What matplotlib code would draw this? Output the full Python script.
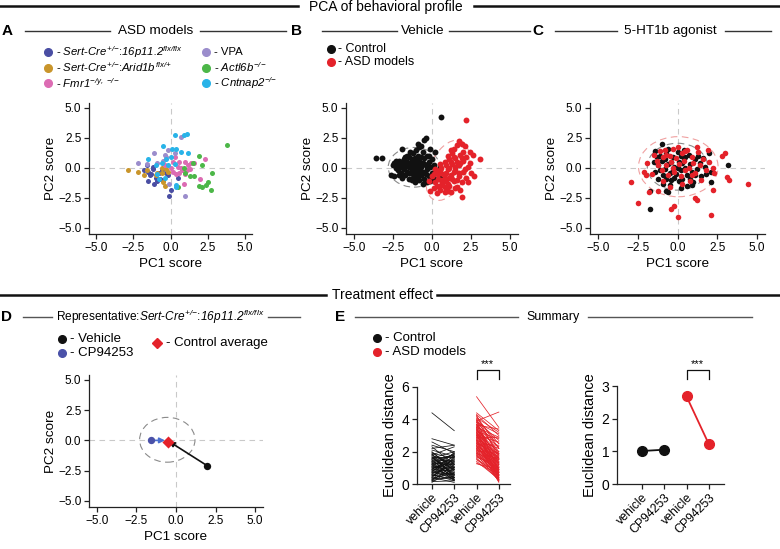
import numpy as np
import matplotlib
matplotlib.use("Agg")
import matplotlib.pyplot as plt
from matplotlib.lines import Line2D
from matplotlib.patches import Ellipse

plt.rcParams['font.family'] = ['Liberation Sans', 'DejaVu Sans']
plt.rcParams['mathtext.fontset'] = 'custom'
plt.rcParams['mathtext.rm'] = 'Liberation Sans:italic'
plt.rcParams['mathtext.it'] = 'Liberation Sans:italic'
plt.rcParams['mathtext.bf'] = 'Liberation Sans:bold'

# ---------------- DATA ----------------
# Panel A: ASD models (PC1, PC2)
a_16p_x = [-1.6,-1.5,-1.3,-1.2,-1.0,-0.9,-0.8,-1.5,-1.1,-0.7,-0.6,-0.3,-0.1,0.0,-1.4,-0.2,0.5,-1.8,-0.5,-1.2]
a_16p_y = [0.2,-0.3,-0.5,-0.1,-0.8,-1.1,-0.4,-1.1,-1.3,-0.9,-0.2,-0.4,-2.3,-1.8,-0.6,-0.6,-0.8,-0.2,-1.0,0.1]
a_arid_x = [-2.9,-2.2,-1.8,-1.6,-0.9,-0.6,-0.5,-0.4,-0.3,-0.2,-0.6,-1.0]
a_arid_y = [-0.2,-0.3,-0.6,-0.2,-0.4,-0.4,-1.2,-1.5,-0.1,-0.3,0.0,-0.6]
a_fmr_x = [0.3,0.6,0.5,0.2,0.8,1.0,1.2,1.4,1.6,2.3,1.1,0.9,0.0,0.4,0.7,1.3,2.0,0.2,-0.4,0.6,1.0]
a_fmr_y = [0.9,0.5,0.1,-0.3,-0.2,0.5,0.2,0.4,0.4,0.7,-0.2,-1.3,0.0,-0.5,0.0,-0.1,-0.9,0.5,0.2,-0.4,-0.5]
a_vpa_x = [0.7,-0.2,-0.4,-1.1,-2.2,-1.6,-0.9,-0.1,1.0,0.3,-0.5,-0.3]
a_vpa_y = [2.6,1.5,1.1,1.2,0.4,0.3,0.4,-1.3,-2.3,1.2,0.6,0.9]
a_actl_x = [3.8,1.9,2.1,2.8,2.5,2.4,2.1,1.9,2.7,1.6,0.5,1.0,1.5,1.3,0.9]
a_actl_y = [1.9,1.0,0.2,-0.4,-1.2,-1.4,-1.6,-1.5,-1.8,-0.7,-1.6,-0.4,0.4,-0.7,0.0]
a_cnt_x = [0.3,0.9,1.1,-0.5,0.1,0.4,1.2,-1.5,-0.3,0.0,0.3,-0.9,-0.8,-0.4,0.4,0.4,-0.6,-0.2,0.7,-1.0]
a_cnt_y = [2.7,2.7,2.8,1.8,1.6,1.6,1.2,0.7,0.7,0.9,0.3,-0.5,-0.9,-0.8,-1.4,-1.6,0.4,0.2,1.3,0.2]

# Panel B: Vehicle
b_ctrl = [(-3.6,0.8),(-3.2,0.8),(-2.6,-0.6),(-2.4,-0.7),(-2.5,0.2),(-2.4,0.4),(-2.3,0.0),(-2.2,0.3),(-2.2,-0.2),(-2.1,0.6),
          (-2.0,0.1),(-2.0,-0.4),(-1.9,1.6),(-1.9,0.4),(-1.8,-0.1),(-1.8,0.7),(-1.7,0.2),(-1.7,-0.6),(-1.6,0.5),(-1.6,-0.3),
          (-1.5,0.9),(-1.5,0.1),(-1.5,-0.9),(-1.4,0.4),(-1.4,-0.4),(-1.3,0.7),(-1.3,-0.1),(-1.3,-1.0),(-1.2,1.2),(-1.2,0.3),
          (-1.2,-0.5),(-1.1,0.0),(-1.1,0.8),(-1.1,-1.2),(-1.0,0.5),(-1.0,-0.3),(-1.0,-0.8),(-0.9,2.0),(-0.9,0.2),(-0.9,1.0),
          (-0.8,-0.2),(-0.8,0.6),(-0.8,-1.0),(-0.7,1.8),(-0.7,0.1),(-0.7,-0.6),(-0.6,1.3),(-0.6,0.4),(-0.6,-0.3),(-0.5,2.3),
          (-0.5,0.8),(-0.5,-0.9),(-0.4,2.5),(-0.4,0.2),(-0.4,-0.5),(-0.3,1.0),(-0.3,-0.1),(-0.3,-1.2),(-0.2,0.5),(-0.2,-0.7),
          (-0.1,1.6),(-0.1,0.1),(-0.1,-1.1),(0.0,0.7),(0.0,-0.4),(0.1,0.2),(0.2,1.3),(0.3,-0.3),(0.5,-0.8),(0.6,4.2),
          (0.5,0.1),(-1.6,1.0),(-2.1,-0.6),(-1.9,-0.8),(-1.4,1.3),(-0.9,-0.6),(-1.3,0.2),(-0.7,0.9),(-1.7,0.9),(-2.3,0.6),
          (-1.0,1.5),(-0.8,1.7),(-0.2,1.0),(-0.5,0.3),(-1.2,-0.8),(0.1,-0.9),(-0.6,-1.3),(-1.1,0.4),(-1.5,-0.4),(-2.0,0.5)]
b_asd = [(2.2,4.0),(3.1,0.7),(1.9,-2.4),(2.7,-0.7),(2.6,1.1),(1.7,2.2),(1.9,2.0),(1.6,1.9),(1.4,1.6),(2.1,1.8),
         (2.4,1.3),(1.3,1.2),(1.8,1.1),(2.2,0.9),(1.5,0.8),(1.1,0.7),(2.0,0.6),(0.8,0.5),(1.3,0.3),(1.7,0.2),
         (2.3,0.1),(0.6,0.0),(1.0,-0.1),(1.5,-0.2),(2.0,-0.3),(2.5,-0.4),(0.3,-0.3),(0.7,-0.5),(1.2,-0.6),(1.7,-0.7),
         (2.2,-0.8),(0.0,-0.7),(0.4,-0.9),(0.9,-1.0),(1.4,-1.1),(1.9,-1.2),(0.2,-1.2),(0.6,-1.4),(1.1,-1.5),(1.6,-1.6),
         (0.1,-1.7),(0.5,-1.8),(1.0,-1.9),(1.5,-1.7),(-0.1,-1.9),(0.3,-2.1),(0.8,-1.6),(1.2,-2.0),(1.8,-1.8),(0.9,0.2),
         (1.4,-0.3),(0.5,-0.2),(2.1,-0.1),(1.9,0.8),(1.0,1.0),(0.7,-1.2),(1.3,-0.9),(0.4,-0.5),(1.6,0.5),(1.1,0.0),
         (0.2,-0.1),(2.4,0.4),(0.8,-0.8),(1.2,0.5),(1.7,-0.4),(0.6,-1.0),(1.0,-1.3),(0.3,-1.5),(1.5,0.1),(2.0,1.3),
         (1.2,1.5),(0.9,-0.4),(1.6,-1.0),(0.1,-0.5),(2.3,-1.2),(1.8,0.4),(1.4,0.9),(0.5,0.3),(0.8,-2.0),(1.1,-0.8),(-0.2,-1.1)]

# Panel C: 5-HT1b agonist
c_ctrl = [(-1.7,-3.45),(3.2,0.2),(2.1,-1.2),(-1.7,-1.9),(-0.6,-2.0),(-0.7,-1.9),(0.2,-1.7),(-1.0,2.0),(-1.4,1.4),(-1.3,0.9),
          (-1.5,0.5),(-1.2,0.2),(-1.1,-0.2),(-1.4,-0.3),(-0.9,-0.6),(-0.8,0.7),(-0.7,1.2),(-0.6,0.3),(-0.5,-0.4),(-0.4,-1.0),
          (-0.3,0.9),(-0.2,0.1),(-0.1,-0.5),(0.0,1.3),(0.1,0.5),(0.2,-0.2),(0.3,-0.9),(0.4,0.8),(0.5,0.0),(0.6,-0.6),
          (0.7,1.1),(0.8,0.3),(0.9,-0.3),(1.0,-1.2),(1.1,0.7),(1.2,-0.1),(1.4,0.4),(1.5,-0.7),(1.7,0.1),(2.0,1.2),
          (2.1,-0.3),(1.8,-0.5),(-0.9,-1.3),(-0.5,-1.4),(0.6,-1.5),(0.9,-1.4),(-1.0,0.6),(-0.3,-0.2),(0.1,-1.1),(-0.6,1.6),
          (0.4,1.5),(1.3,1.0),(-1.2,-0.9),(-0.8,-0.1),(0.0,0.0),(0.3,0.4),(-0.2,-0.8),(0.8,-0.9),(1.1,-0.6),(-0.4,0.5),
          (0.5,0.9),(-1.1,1.0),(1.6,0.8),(0.2,1.0),(-0.7,-0.9)]
c_asd = [(-2.9,-1.2),(-2.5,-2.9),(-0.4,-3.45),(-0.2,-3.2),(0.0,-4.1),(2.1,-3.95),(4.4,-1.3),(3.0,1.2),(2.8,1.0),(3.1,-0.75),
         (3.25,-1.0),(2.2,-1.8),(1.1,-2.5),(1.2,-2.7),(-1.2,-1.9),(-1.8,-2.0),(-2.1,-0.3),(-2.0,-0.6),(-1.9,0.4),(-1.5,1.1),
         (-1.3,0.6),(-1.1,1.4),(-1.0,-0.2),(-0.9,0.9),(-0.8,1.5),(-0.7,0.2),(-0.6,-0.6),(-0.5,1.0),(-0.4,0.5),(-0.3,1.6),
         (-0.2,-0.3),(-0.1,0.8),(0.0,1.7),(0.1,0.3),(0.2,-0.7),(0.3,1.2),(0.4,0.6),(0.5,-0.2),(0.6,1.5),(0.7,0.0),
         (0.8,-1.1),(0.9,0.9),(1.0,0.4),(1.1,-0.4),(1.3,1.3),(1.4,0.2),(1.5,-1.0),(1.6,0.7),(1.8,-0.2),(1.9,1.5),
         (2.0,0.5),(2.2,0.0),(2.3,-0.4),(-1.6,-0.5),(-0.5,-1.6),(0.3,-1.3),(-0.9,-1.1),(1.2,1.7),(0.5,1.4),(-0.3,0.0),
         (-1.2,0.2),(0.9,-0.6),(-0.7,1.1)]

# Panel D: representative Sert-Cre;16p11.2
d_vehicle = (1.96, -2.08)
d_cp = (-1.58, 0.0)
d_ctrl_avg = (-0.5, -0.1)

# Panel E: Euclidean distance (vehicle, CP94253) per animal
e_ctrl = [(4.4,3.3),(2.8,2.4),(2.6,1.9),(2.4,2.0),(2.3,1.2),(2.2,2.4),(2.0,0.8),(1.9,1.6),(1.8,2.3),(1.8,1.1),
          (1.7,0.5),(1.7,1.7),(1.6,2.0),(1.6,0.9),(1.5,1.4),(1.5,0.3),(1.4,1.8),(1.4,0.7),(1.3,1.2),(1.3,0.2),
          (1.2,1.5),(1.2,0.6),(1.1,1.9),(1.1,1.0),(1.0,0.4),(1.0,1.3),(0.9,1.7),(0.9,0.8),(0.8,0.3),(0.8,1.5),
          (0.7,1.1),(0.7,0.6),(0.6,1.8),(0.6,0.2),(0.5,1.3),(0.5,0.7),(0.4,0.1),(0.4,1.6),(0.3,0.9),(0.3,0.4),
          (0.2,1.2),(0.2,0.5),(0.15,0.2),(0.1,1.0),(1.85,0.4),(1.75,1.3),(1.65,0.6),(1.55,1.75),(1.45,1.0),(1.35,0.4),
          (1.25,1.85),(1.15,0.25),(1.05,0.9),(0.95,1.45),(0.85,0.55),(0.75,1.95),(0.65,1.0),(0.55,0.3),(0.45,1.4),(0.35,0.65),
          (0.25,1.7),(2.1,1.7),(1.95,1.0)]
e_asd = [(5.4,3.5),(3.9,4.45),(4.4,3.3),(4.3,3.0),(4.2,2.2),(4.1,3.2),(4.0,1.8),(3.9,2.7),(3.8,1.3),(3.8,3.1),
         (3.7,2.0),(3.7,0.9),(3.6,2.5),(3.6,1.5),(3.5,0.6),(3.5,2.9),(3.4,1.9),(3.4,1.1),(3.3,0.4),(3.3,2.3),
         (3.2,1.6),(3.2,0.8),(3.1,2.0),(3.1,0.3),(3.0,1.4),(3.0,2.6),(2.9,0.9),(2.9,1.8),(2.8,0.5),(2.8,1.2),
         (2.7,2.2),(2.7,0.2),(2.6,1.6),(2.6,0.7),(2.5,1.0),(2.5,1.9),(2.4,0.4),(2.4,1.4),(2.3,0.8),(2.3,1.7),
         (2.2,0.15),(2.2,1.1),(2.1,0.6),(2.1,1.5),(2.0,0.3),(2.0,1.0),(1.9,1.3),(1.9,0.5),(1.8,0.8),(1.8,0.2),
         (1.7,1.0),(1.6,0.4),(1.5,0.7),(1.4,0.3),(1.3,0.6),(1.25,0.9),(3.65,3.4),(3.55,1.2),(3.45,0.25),(3.35,1.75),
         (3.25,2.8),(3.15,1.0),(3.05,0.55),(2.95,1.5),(2.85,2.9),(2.75,0.35),(2.65,1.3),(2.55,0.1),(2.45,2.4),(2.35,0.55),
         (2.25,1.3),(2.15,0.9),(2.05,1.9),(1.95,0.7),(1.85,1.6),(1.75,0.5),(1.65,1.2),(1.55,0.25),(4.25,1.6),(4.05,2.5),
         (3.95,0.7),(3.85,2.2)]
e_sum_ctrl = [1.01, 1.05]
e_sum_asd = [2.68, 1.22]
e_ticklabels = ["vehicle", "CP94253", "vehicle", "CP94253"]
pc_ticks = [-5.0, -2.5, 0.0, 2.5, 5.0]

# ---------------- STYLE ----------------
W, H = 780, 549
BLACK = '#111111'
RED = '#e4222a'
BLUE = '#4a51a8'
C16 = '#4a4ea3'; CARID = '#c9952b'; CFMR = '#dc6cb3'; CVPA = '#9b8dcc'; CACTL = '#4cb748'; CCNT = '#29b3e8'
FS_TICK = 8.5
FS_LAB = 9.7

fig = plt.figure(figsize=(W/100, H/100), dpi=100)

def fx(x): return x / W
def fy(y): return 1 - y / H

def add_ax(l, t, r, b):
    return fig.add_axes([fx(l), fy(b), (r - l) / W, (b - t) / H])

def hline(x0, x1, y, lw=1.0, color='#333333'):
    fig.add_artist(Line2D([fx(x0), fx(x1)], [fy(y), fy(y)], transform=fig.transFigure, lw=lw, color=color))

def ftext(x, y, s, **kw):
    kw.setdefault('fontsize', FS_LAB)
    fig.text(fx(x), fy(y), s, **kw)

def fmarker(x, y, color, marker='o', ms=5.5):
    fig.add_artist(Line2D([fx(x)], [fy(y)], transform=fig.transFigure, marker=marker, ms=ms,
                          color=color, mec=color, ls='none'))

def style(ax):
    for s in ['top', 'right']:
        ax.spines[s].set_visible(False)
    for s in ['left', 'bottom']:
        ax.spines[s].set_linewidth(0.9)
        ax.spines[s].set_color('#222222')
    ax.tick_params(length=3.5, width=0.9, labelsize=FS_TICK, pad=2, color='#222222')

def pca_ax(ax, xlim=(-5.5, 5.5), ylim=(-5.5, 5.4)):
    style(ax)
    ax.set_xlim(*xlim); ax.set_ylim(*ylim)
    ax.set_xticks(pc_ticks); ax.set_yticks(pc_ticks)
    ax.axhline(0, color='#c9c9c9', ls=(0, (5, 4)), lw=0.8, zorder=0)
    ax.axvline(0, color='#c9c9c9', ls=(0, (5, 4)), lw=0.8, zorder=0)
    ax.set_xlabel('PC1 score', fontsize=FS_LAB, labelpad=3)
    ax.set_ylabel('PC2 score', fontsize=FS_LAB, labelpad=1)

# ---------------- HEADERS ----------------
hline(0, 298, 6, lw=1.8, color='#111111'); hline(474, 780, 6, lw=1.8, color='#111111')
ftext(386, 7, 'PCA of behavioral profile', ha='center', va='center', fontsize=10)
hline(0, 326, 295, lw=1.8, color='#111111'); hline(437, 780, 295, lw=1.8, color='#111111')
ftext(383, 295, 'Treatment effect', ha='center', va='center', fontsize=10)

ftext(7, 31, 'A', ha='center', va='center', fontsize=11, fontweight='bold')
hline(25, 110, 31); hline(200, 286, 31)
ftext(156, 31, 'ASD models', ha='center', va='center')
ftext(297, 31, 'B', ha='center', va='center', fontsize=11, fontweight='bold')
hline(322, 397, 31); hline(449, 530, 31)
ftext(423, 31, 'Vehicle', ha='center', va='center')
ftext(538, 31, 'C', ha='center', va='center', fontsize=11, fontweight='bold')
hline(555, 617, 31); hline(725, 771, 31)
ftext(670, 31, '5-HT1b agonist', ha='center', va='center')

ftext(7, 317, 'D', ha='center', va='center', fontsize=11, fontweight='bold')
hline(23, 52, 317, color='#555555'); hline(268, 300, 317, color='#555555')
ftext(56, 317, r'Representative:$Sert$-$Cre^{{+}/{-}}$:$16p11.2^{flx/flx}$', ha='left', va='center', fontsize=8.6)
ftext(340, 317, 'E', ha='center', va='center', fontsize=11, fontweight='bold')
hline(355, 518, 317, color='#555555'); hline(588, 752, 317, color='#555555')
ftext(553, 317, 'Summary', ha='center', va='center', fontsize=9)

# ---------------- PANEL A ----------------
axA = add_ax(89, 103, 252, 234)
pca_ax(axA)
groups = [(a_16p_x, a_16p_y, C16), (a_arid_x, a_arid_y, CARID), (a_fmr_x, a_fmr_y, CFMR),
          (a_vpa_x, a_vpa_y, CVPA), (a_actl_x, a_actl_y, CACTL), (a_cnt_x, a_cnt_y, CCNT)]
for gx, gy, col in groups:
    axA.scatter(gx, gy, s=13, color=col, lw=0, zorder=3)

legA = [(48, 52, C16, r'- $Sert$-$Cre^{{+}/{-}}$:$16p11.2^{flx/flx}$'),
        (48, 67.5, CARID, r'- $Sert$-$Cre^{{+}/{-}}$:$Arid1b^{flx/{+}}$'),
        (48, 83, CFMR, r'- $Fmr1^{{-}/y,\ {-}/{-}}$'),
        (206, 52, CVPA, '- VPA'),
        (206, 67.5, CACTL, r'- $Actl6b^{{-}/{-}}$'),
        (206, 83, CCNT, r'- $Cntnap2^{{-}/{-}}$')]
for x, y, col, lab in legA:
    fmarker(x, y, col)
    ftext(x + 8, y, lab, ha='left', va='center', fontsize=8.2)

# ---------------- PANEL B ----------------
axB = add_ax(346, 103, 518, 234)
pca_ax(axB)
axB.add_patch(Ellipse((-1.15, 0.05), 3.3, 3.3, fill=False, ec='#8a8a8a', lw=0.8, ls=(0, (6, 4)), zorder=1))
axB.add_patch(Ellipse((1.0, -0.2), 5.2, 2.4, angle=73, fill=False, ec='#f0a0a0', lw=0.8, ls=(0, (6, 4)), zorder=1))
axB.scatter([p[0] for p in b_ctrl], [p[1] for p in b_ctrl], s=18, color=BLACK, lw=0, zorder=3)
axB.scatter([p[0] for p in b_asd], [p[1] for p in b_asd], s=18, color=RED, lw=0, zorder=3)
fmarker(331, 49, BLACK); ftext(338, 49, '- Control', ha='left', va='center', fontsize=9)
fmarker(331, 62, RED); ftext(338, 62, '- ASD models', ha='left', va='center', fontsize=9)

# ---------------- PANEL C ----------------
axC = add_ax(590, 103, 765, 234)
pca_ax(axC)
axC.add_patch(Ellipse((0.0, 0.1), 3.8, 3.9, fill=False, ec='#8a8a8a', lw=0.8, ls=(0, (6, 4)), zorder=1))
axC.add_patch(Ellipse((0.05, 0.1), 5.0, 5.0, fill=False, ec='#f0a0a0', lw=0.8, ls=(0, (6, 4)), zorder=1))
axC.scatter([p[0] for p in c_ctrl], [p[1] for p in c_ctrl], s=16, color=BLACK, lw=0, zorder=3)
axC.scatter([p[0] for p in c_asd], [p[1] for p in c_asd], s=16, color=RED, lw=0, zorder=4)

# ---------------- PANEL D ----------------
axD = add_ax(89, 375, 263, 507)
pca_ax(axD)
axD.add_patch(Ellipse((-0.55, 0.05), 3.5, 3.7, fill=False, ec='#8a8a8a', lw=0.8, ls=(0, (6, 4)), zorder=1))
axD.annotate('', xy=(d_ctrl_avg[0] + 0.05, d_ctrl_avg[1] + 0.02), xytext=d_vehicle,
             arrowprops=dict(arrowstyle='-|>', color=BLACK, lw=1.2, mutation_scale=8, shrinkA=0, shrinkB=0), zorder=4)
axD.annotate('', xy=(d_ctrl_avg[0] - 0.2, 0.0), xytext=d_cp,
             arrowprops=dict(arrowstyle='-|>', color='#4a6fd0', lw=1.2, mutation_scale=8, shrinkA=0, shrinkB=0), zorder=4)
axD.scatter([d_vehicle[0]], [d_vehicle[1]], s=28, color=BLACK, lw=0, zorder=5)
axD.scatter([d_cp[0]], [d_cp[1]], s=28, color=BLUE, lw=0, zorder=5)
axD.scatter([d_ctrl_avg[0]], [d_ctrl_avg[1]], s=38, marker='D', color=RED, lw=0, zorder=6)
fmarker(62, 339, BLACK); ftext(70, 339, '- Vehicle', ha='left', va='center', fontsize=9.5)
fmarker(62, 353, BLUE); ftext(70, 353, '- CP94253', ha='left', va='center', fontsize=9.5)
fmarker(157, 343, RED, marker='D', ms=5.5); ftext(166, 343, '- Control average', ha='left', va='center', fontsize=9.5)

# ---------------- PANEL E (left) ----------------
def e_style(ax):
    style(ax)
    ax.set_xticks([0, 1, 2, 3])
    ax.set_xticklabels(e_ticklabels, rotation=45, ha='right', rotation_mode='anchor', fontsize=8.8)
    ax.set_ylabel('Euclidean distance', fontsize=10.5, labelpad=3)
    ax.tick_params(axis='y', labelsize=10)

axE1 = add_ax(417, 387, 510, 484)
e_style(axE1)
axE1.set_xlim(-0.67, 3.5); axE1.set_ylim(0, 6)
axE1.set_yticks([0, 2, 4, 6])
for v, c in e_ctrl:
    axE1.plot([0, 1], [v, c], color=BLACK, lw=0.55)
for v, c in e_asd:
    axE1.plot([2, 3], [v, c], color=RED, lw=0.55)
axE1.plot([2, 2, 3, 3], [6.5, 7.05, 7.05, 6.5], color=BLACK, lw=0.9, clip_on=False)
axE1.text(2.5, 7.1, '***', ha='center', va='bottom', fontsize=8)
fmarker(377, 338, BLACK); ftext(385, 338, '- Control', ha='left', va='center', fontsize=9.5)
fmarker(377, 352, RED); ftext(385, 352, '- ASD models', ha='left', va='center', fontsize=9.5)

# ---------------- PANEL E (right) ----------------
axE2 = add_ax(617, 386, 724, 484)
e_style(axE2)
axE2.set_xlim(-1.12, 3.68); axE2.set_ylim(0, 3)
axE2.set_yticks([0, 1, 2, 3])
axE2.plot([0, 1], e_sum_ctrl, color=BLACK, lw=1.3, marker='o', ms=7)
axE2.plot([2, 3], e_sum_asd, color=RED, lw=1.3, marker='o', ms=7)
axE2.plot([2, 2, 3, 3], [3.22, 3.5, 3.5, 3.22], color=BLACK, lw=0.9, clip_on=False)
axE2.text(2.5, 3.53, '***', ha='center', va='bottom', fontsize=8)

fig.savefig('out.png', dpi=100)
